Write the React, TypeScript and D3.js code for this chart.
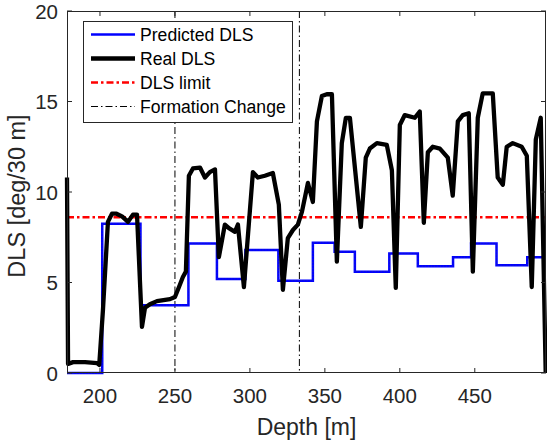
import * as d3 from 'd3'

// Real DLS (black line)
const realDepth = [
  178, 178.7, 182, 190, 198, 199.5, 202, 205.3, 208, 211, 214.7, 218.7, 222, 224.7,
  228, 230, 233.3, 238, 246.7, 250, 252.7, 255.3, 257.3, 259.3, 262, 266.7, 270,
  273.3, 276.7, 279.3, 283.3, 286, 290, 292, 296, 302, 305.3, 310, 315.3, 319.3,
  322, 325.3, 328.7, 332, 334.7, 338.7, 342, 344.7, 348, 351.3, 354.7, 358, 361.3,
  364, 366.7, 374, 377.3, 380, 384.7, 391.3, 394.7, 397.3, 400, 403.3, 410, 413.3,
  416, 418.7, 422, 426.7, 432, 435.3, 438.7, 442, 446, 448.7, 452, 455.3, 462,
  465.3, 468.7, 471.3, 475.3, 481.3, 484.7, 488, 490.7, 494, 497.3,
]
const realDLS = [
  10.8, 0.5, 0.6, 0.6, 0.55, 0.45, 3.5, 8.35, 8.8, 8.8, 8.65, 8.35, 8.75, 8.75,
  2.55, 3.6, 3.8, 3.97, 4.08, 4.2, 4.75, 5.3, 5.6, 10.9, 11.3, 11.35, 10.8,
  11.1, 11.25, 6.4, 8.2, 8.0, 7.8, 8.2, 4.75, 11.1, 10.8, 10.9, 11.05, 9.3,
  4.6, 7.45, 7.9, 8.2, 8.9, 10.5, 9.45, 13.9, 15.3, 15.4, 15.4, 6.15, 12.7,
  14.1, 14.1, 8.07, 11.9, 12.4, 12.7, 12.6, 11.2, 4.7, 13.7, 14.25, 14.1, 14.45,
  8.3, 12.2, 12.5, 12.4, 11.9, 9.8, 13.9, 14.25, 14.35, 5.6, 14.1, 15.45, 15.45,
  10.8, 10.4, 12.5, 12.7, 12.5, 12.0, 4.75, 12.9, 14.1, 0,
]

// Predicted DLS: step segments (start depth, value)
const predStart = [178, 201.5, 227, 259, 278, 297, 319, 342, 356.5, 370, 393, 412, 435.5, 447.5, 464.5, 485, 497.5]
const predDLS = [0, 8.25, 3.75, 7.15, 5.2, 6.8, 5.1, 7.2, 6.7, 5.6, 6.6, 5.9, 6.4, 7.15, 5.95, 6.4, 6.4]

const dlsLimit = 8.6
const formationChanges = [250, 333]

const xTicks = [200, 250, 300, 350, 400, 450]
const yTicks = [0, 5, 10, 15, 20]

const legendItems = ['Predicted DLS', 'Real DLS', 'DLS limit', 'Formation Change']

const W = 547
const H = 443
const m = { left: 67, right: 546, top: 11, bottom: 373 }
const axisColor = '#262626'
const font = '"Liberation Sans", Arial, Helvetica, sans-serif'

export default function App() {
  const x = d3.scaleLinear().domain([178, 497.5]).range([m.left, m.right])
  const y = d3.scaleLinear().domain([0, 20]).range([m.bottom, m.top])

  const realLine = d3.line<number>()
    .x(i => x(realDepth[i]))
    .y(i => y(realDLS[i]))(realDepth.map((_, i) => i))

  const predLine = d3.line<number>()
    .x(i => x(predStart[i]))
    .y(i => y(predDLS[i]))
    .curve(d3.curveStepAfter)(predStart.map((_, i) => i))

  const tickLen = 5

  return (
    <svg width={W} height={H} style={{ position: 'absolute', left: 0, top: 0, background: '#fff' }}
      fontFamily={font}>
      <rect x={0} y={0} width={W} height={H} fill="#fff" />

      {/* formation change lines */}
      {formationChanges.map(d => (
        <line key={d} x1={x(d)} x2={x(d)} y1={m.top} y2={m.bottom}
          stroke="#000" strokeWidth={1} strokeDasharray="7,3,1.5,3" />
      ))}

      {/* dls limit */}
      <line x1={m.left} x2={m.right} y1={y(dlsLimit)} y2={y(dlsLimit)}
        stroke="#ff0000" strokeWidth={2.5} strokeDasharray="7,3,2.5,3" />

      <path d={predLine ?? ''} fill="none" stroke="#0000ff" strokeWidth={2.5} />
      <path d={predLine ?? ''} fill="none" stroke="#2020c0" strokeWidth={1} strokeDasharray="1,2" />

      <path d={realLine ?? ''} fill="none" stroke="#000" strokeWidth={4.3}
        strokeLinejoin="round" strokeLinecap="butt" />

      {/* axes box */}
      <rect x={m.left + 0.5} y={m.top + 0.5} width={m.right - m.left - 1} height={m.bottom - m.top - 1}
        fill="none" stroke={axisColor} strokeWidth={1} />

      {xTicks.map(t => (
        <g key={t}>
          <line x1={x(t)} x2={x(t)} y1={m.bottom} y2={m.bottom - tickLen} stroke={axisColor} />
          <line x1={x(t)} x2={x(t)} y1={m.top} y2={m.top + tickLen} stroke={axisColor} />
          <text x={x(t)} y={m.bottom + 30} textAnchor="middle" fontSize={20.5} fill={axisColor}>{t}</text>
        </g>
      ))}
      {yTicks.map(t => (
        <g key={t}>
          <line x1={m.left} x2={m.left + tickLen} y1={y(t)} y2={y(t)} stroke={axisColor} />
          <line x1={m.right} x2={m.right - tickLen} y1={y(t)} y2={y(t)} stroke={axisColor} />
          <text x={m.left - 9} y={y(t)} dy="0.38em" textAnchor="end" fontSize={20.5} fill={axisColor}>{t}</text>
        </g>
      ))}

      <text x={(m.left + m.right) / 2} y={435} textAnchor="middle" fontSize={23} fill={axisColor}>Depth [m]</text>
      <text transform={`translate(25,${(m.top + m.bottom) / 2 + 4}) rotate(-90)`} textAnchor="middle"
        fontSize={23.5} fill={axisColor}>DLS [deg/30 m]</text>

      {/* legend */}
      <g>
        <rect x={83.5} y={21.5} width={209} height={101} fill="#fff" stroke={axisColor} strokeWidth={1} />
        {legendItems.map((name, i) => {
          const cy = 34.5 + i * 24
          const styles = [
            { stroke: '#0000ff', w: 2.5, dash: undefined },
            { stroke: '#000', w: 4.3, dash: undefined },
            { stroke: '#ff0000', w: 2.5, dash: '7,3,2.5,3' },
            { stroke: '#000', w: 1, dash: '7,3,1.5,3' },
          ][i]
          return (
            <g key={name}>
              <line x1={91} x2={135} y1={cy} y2={cy} stroke={styles.stroke} strokeWidth={styles.w}
                strokeDasharray={styles.dash} />
              <text x={140} y={cy} dy="0.35em" fontSize={17.6} fill="#000">{name}</text>
            </g>
          )
        })}
      </g>
    </svg>
  )
}
